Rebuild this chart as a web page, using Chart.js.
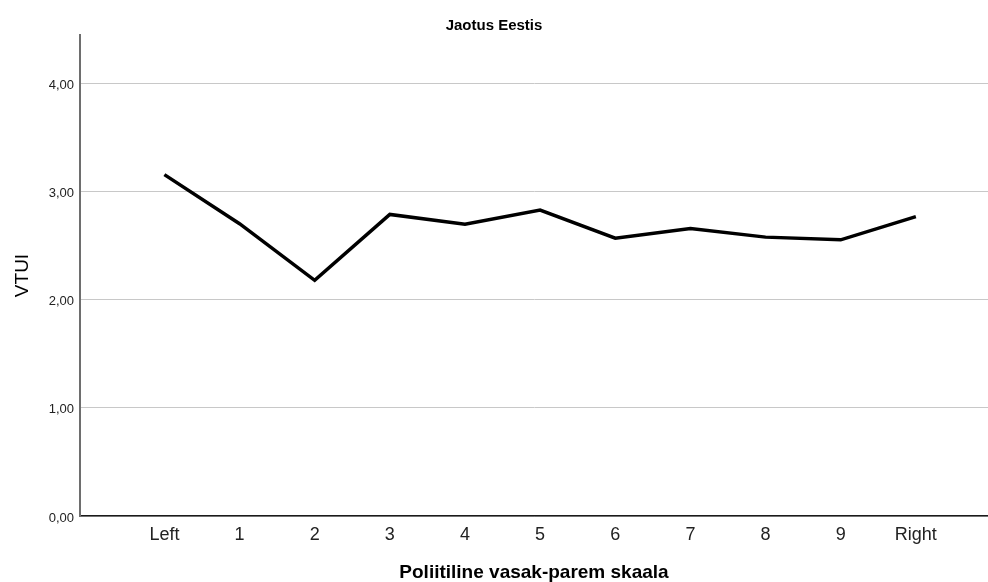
<!DOCTYPE html>
<html>
<head>
<meta charset="utf-8">
<script src="https://cdn.jsdelivr.net/npm/chart.js@4"></script>
<style>
  html, body { margin: 0; padding: 0; background: #ffffff; }
  #c { display: block; }
</style>
</head>
<body>
<canvas id="c" width="988" height="582"></canvas>
<script>
const categories = ['Left', '1', '2', '3', '4', '5', '6', '7', '8', '9', 'Right'];
const vtuiValues = [3.158, 2.704, 2.18, 2.79, 2.70, 2.83, 2.57, 2.66, 2.58, 2.555, 2.77];
const yTickValues = [0, 1, 2, 3, 4];
const yTickLabels = ['0,00', '1,00', '2,00', '3,00', '4,00'];
const chartTitle = 'Jaotus Eestis';
const xTitle = 'Poliitiline vasak-parem skaala';
const yTitle = 'VTUI';

const FONT = "'Liberation Sans', Arial, sans-serif";

const points = categories.map((c, i) => ({ x: i, y: vtuiValues[i] }));

new Chart(document.getElementById('c'), {
  type: 'line',
  data: {
    datasets: [{
      data: points,
      borderColor: '#000000',
      borderWidth: 3.5,
      pointRadius: 0,
      pointHoverRadius: 0,
      tension: 0,
      fill: false,
      borderJoinStyle: 'miter'
    }]
  },
  options: {
    responsive: false,
    animation: false,
    events: [],
    layout: { padding: 0 },
    plugins: {
      legend: { display: false },
      tooltip: { enabled: false },
      title: {
        display: true,
        text: chartTitle,
        color: '#000000',
        font: { family: FONT, size: 15, weight: 'bold', lineHeight: 1.2 },
        padding: { top: 17, bottom: 0 }
      }
    },
    scales: {
      x: {
        type: 'linear',
        min: -1.123,
        max: 10.96,
        afterBuildTicks: (s) => { s.ticks = categories.map((c, i) => ({ value: i })); },
        afterFit: (s) => { s.height = 66; },
        grid: { display: false, drawTicks: false },
        border: { display: true, color: '#1a1a1a', width: 1.5 },
        ticks: {
          autoSkip: false,
          maxRotation: 0,
          padding: 8,
          color: '#222222',
          font: { family: FONT, size: 18 },
          callback: (v) => categories[v] !== undefined ? categories[v] : ''
        },
        title: {
          display: true,
          text: xTitle,
          color: '#000000',
          font: { family: FONT, size: 19, weight: 'bold', lineHeight: 1 },
          padding: { top: 0, bottom: 0 }
        }
      },
      y: {
        type: 'linear',
        min: 0,
        max: 4.45,
        afterBuildTicks: (s) => { s.ticks = yTickValues.map(v => ({ value: v })); },
        afterFit: (s) => { s.width = 80; },
        grid: { color: '#c8c8c8', lineWidth: 1, drawTicks: false },
        border: { display: true, color: '#6e6e6e', width: 2 },
        ticks: {
          padding: 6,
          labelOffset: 2,
          color: '#222222',
          font: { family: FONT, size: 13 },
          callback: (v) => yTickLabels[yTickValues.indexOf(v)]
        },
        title: {
          display: true,
          text: yTitle,
          color: '#000000',
          font: { family: FONT, size: 19, lineHeight: 1.2 },
          padding: { top: 11, bottom: 0 }
        }
      }
    }
  }
});
</script>
</body>
</html>
